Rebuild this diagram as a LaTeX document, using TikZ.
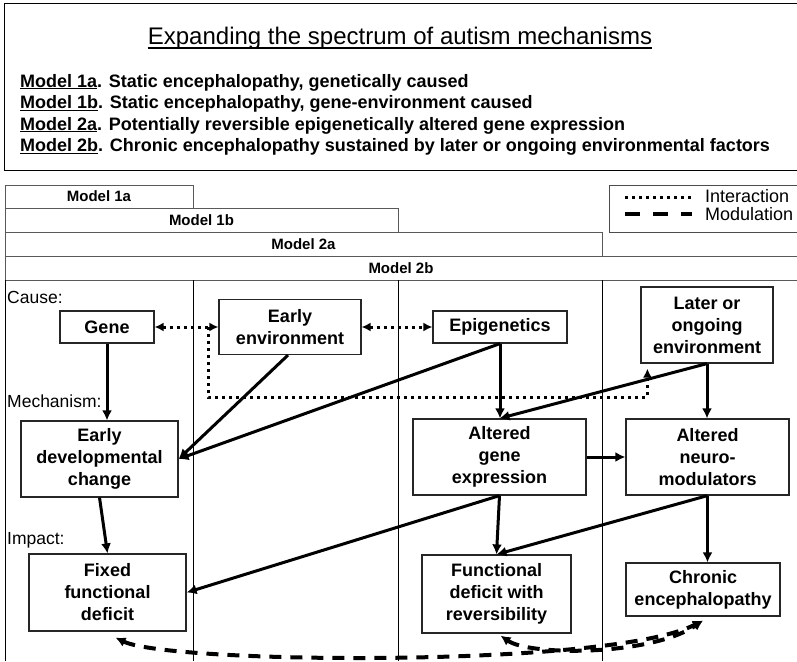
\documentclass[tikz,border=0pt]{standalone}
\usepackage{fontspec}
\setmainfont{Liberation Sans}
\usetikzlibrary{arrows.meta}

\begin{document}
\begin{tikzpicture}[x=1pt,y=-1pt,
    box/.style={draw=black!85,line width=1.2pt,fill=white,align=center,inner sep=0pt,
      font=\bfseries\fontsize{18}{22}\selectfont},
    modelrow/.style={draw=black!65,line width=1pt,inner sep=0pt,
      font=\bfseries\fontsize{15}{18}\selectfont},
    descr/.style={anchor=base west,inner sep=0pt,font=\bfseries\fontsize{18}{22}\selectfont},
    lbl/.style={anchor=west,inner sep=0pt,font=\fontsize{17.5}{21}\selectfont},
    leg/.style={anchor=west,inner sep=0pt,font=\fontsize{18}{21}\selectfont},
    arr/.style={line width=3pt,-{Latex[length=10pt,width=10pt]}},
    inter/.style={line width=3pt,dash pattern=on 3pt off 4pt},
    modul/.style={line width=4pt,dash pattern=on 12pt off 9pt},
    divider/.style={line width=0.8pt}]

    \useasboundingbox (0,0) rectangle (797,661);

    % heading box
    \draw[line width=1pt] (797,4) -- (4,4) -- (4,170) -- (797,170);
    \node[inner sep=0pt,anchor=base,font=\fontsize{24}{28}\selectfont] (title) at (400,45) {Expanding the spectrum of autism mechanisms};
    \draw[line width=1.3pt] ([yshift=-3pt]title.base west) -- ([yshift=-3pt]title.base east);
    \node[descr] (d1a) at (20,87) {\underline{Model 1a}. Static encephalopathy, genetically caused};
    \node[descr] (d1b) at (20,108.5) {\underline{Model 1b}. Static encephalopathy, gene-environment caused};
    \node[descr] (d2a) at (20,130) {\underline{Model 2a}. Potentially reversible epigenetically altered gene expression};
    \node[descr] (d2b) at (20,151.5) {\underline{Model 2b}. Chronic encephalopathy sustained by later or ongoing environmental factors};

    % model rows
    \node[modelrow,minimum width=188pt,minimum height=23pt] (m1a) at (99,196.5) {Model 1a};
    \node[modelrow,minimum width=393pt,minimum height=24pt] (m1b) at (201.5,220) {Model 1b};
    \node[modelrow,minimum width=597pt,minimum height=24pt] (m2a) at (303.5,244) {Model 2a};
    \node[modelrow,minimum width=792pt,minimum height=24pt] (m2b) at (401,268) {Model 2b};

    % legend
    \draw[line width=1pt,draw=black!70] (797,185) -- (609,185) -- (609,232) -- (797,232);
    \coordinate (li1) at (625,197);
    \coordinate (li2) at (692,197);
    \coordinate (lm1) at (625,214);
    \coordinate (lm2) at (692,214);
    \draw[inter] (li1) -- (li2);
    \draw[line width=4pt,dash pattern=on 15pt off 13pt] (lm1) -- (lm2);
    \node[leg] (lint) at (705,196) {Interaction};
    \node[leg] (lmod) at (705,214) {Modulation};

    % columns
    \draw[divider] (5,280) -- (5,661);
    \draw[divider] (193,280) -- (193,661);
    \draw[divider] (398,280) -- (398,661);
    \draw[divider] (602,280) -- (602,661);

    \node[lbl] (cause) at (7,297) {Cause:};
    \node[lbl] (mech) at (7,401) {Mechanism:};
    \node[lbl] (impact) at (7,540) {Impact:};

    % boxes
    \node[box,minimum width=94pt,minimum height=32pt] (gene) at (107,327) {Gene};
    \node[box,minimum width=142pt,minimum height=55pt] (earlyenv) at (290,327) {Early\\environment};
    \node[box,minimum width=134pt,minimum height=32pt] (epigen) at (500,327) {Epigenetics};
    \node[box,minimum width=132pt,minimum height=76pt] (later) at (707,325) {Later or\\ongoing\\environment};
    \node[box,minimum width=157pt,minimum height=76pt] (earlydev) at (99.5,459) {Early\\developmental\\change};
    \node[box,minimum width=173pt,minimum height=76pt] (altgene) at (499.5,457) {Altered\\gene\\expression};
    \node[box,minimum width=163pt,minimum height=76pt] (altneuro) at (707.5,457) {Altered\\neuro-\\modulators};
    \node[box,minimum width=157pt,minimum height=77pt] (fixed) at (107.5,592.5) {Fixed\\functional\\deficit};
    \node[box,minimum width=149pt,minimum height=78pt] (funcdef) at (496.5,594) {Functional\\deficit with\\reversibility};
    \node[box,minimum width=154pt,minimum height=53pt] (chronic) at (703,589.5) {Chronic\\encephalopathy};

    % interaction
    \draw[inter,{Latex[length=9pt,width=9pt]}-{Latex[length=9pt,width=9pt]}] (gene.east) -- (gene.east -| earlyenv.west);
    \draw[inter,{Latex[length=9pt,width=9pt]}-{Latex[length=9pt,width=9pt]}] (earlyenv.east) -- (epigen.west);
    \coordinate (ia) at (208,327);
    \coordinate (dip) at (208,397);
    \draw[inter,-{Latex[length=9pt,width=9pt]}] (ia) -- (dip) -| ([xshift=7pt,yshift=-5pt]later.south west);

    % causal arrows
    \draw[arr] (gene.south) -- (gene.south |- earlydev.north);
    \draw[arr] ([xshift=-2pt]earlyenv.south) -- (earlydev.east);
    \draw[arr] (epigen.south) -- (earlydev.east);
    \draw[arr] (epigen.south) -- (epigen.south |- altgene.north);
    \draw[arr] (later.south) -- (altgene.north);
    \draw[arr] (later.south) -- (later.south |- altneuro.north);
    \draw[arr] (altgene.east) -- (altneuro.west);
    \draw[arr] (earlydev.south) -- (fixed.north);
    \draw[arr] (altgene.south) -- (fixed.east);
    \draw[arr] (altgene.south) -- (funcdef.north);
    \draw[arr] (altneuro.south) -- (funcdef.north);
    \draw[arr] (altneuro.south) -- (altneuro.south |- chronic.north);

    % modulation
    \draw[modul,{Latex[length=10pt,width=10pt]}-{Latex[length=10pt,width=10pt]}] ([xshift=8pt,yshift=-6pt]fixed.south) .. controls (170,664) and (610,668) .. ([yshift=-4pt]chronic.south);
    \draw[modul,{Latex[length=10pt,width=10pt]}-{Latex[length=10pt,width=10pt]}] ([xshift=4pt,yshift=-2pt]funcdef.south) .. controls (530,656) and (650,656) .. ([yshift=-4pt]chronic.south);
\end{tikzpicture}
\end{document}
